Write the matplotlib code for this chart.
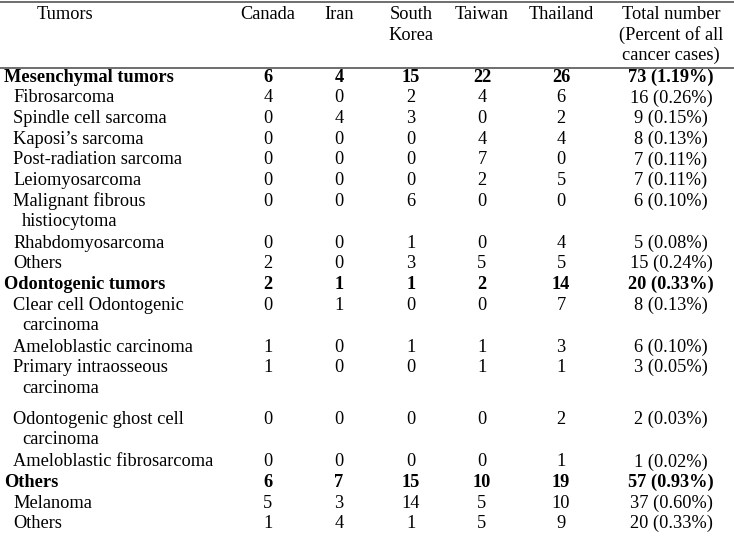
import matplotlib.pyplot as plt

plt.rcParams['font.family'] = ['Liberation Serif', 'DejaVu Serif']

# Table data
headers = ["Canada", "Iran", "South\nKorea", "Taiwan", "Thailand",
           "Total number\n(Percent of all\ncancer cases)"]
tumors = ["Mesenchymal tumors", "Fibrosarcoma", "Spindle cell sarcoma", "Kaposi\u2019s sarcoma",
          "Post-radiation sarcoma", "Leiomyosarcoma", "Malignant fibrous\nhistiocytoma",
          "Rhabdomyosarcoma", "Others", "Odontogenic tumors",
          "Clear cell Odontogenic\ncarcinoma", "Ameloblastic carcinoma",
          "Primary intraosseous\ncarcinoma", "Odontogenic ghost cell\ncarcinoma",
          "Ameloblastic fibrosarcoma", "Others", "Melanoma", "Others"]
is_group = [True, False, False, False, False, False, False, False, False, True,
            False, False, False, False, False, True, False, False]
canada = [6, 4, 0, 0, 0, 0, 0, 0, 2, 2, 0, 1, 1, 0, 0, 6, 5, 1]
iran = [4, 0, 4, 0, 0, 0, 0, 0, 0, 1, 1, 0, 0, 0, 0, 7, 3, 4]
south_korea = [15, 2, 3, 0, 0, 0, 6, 1, 3, 1, 0, 1, 0, 0, 0, 15, 14, 1]
taiwan = [22, 4, 0, 4, 7, 2, 0, 0, 5, 2, 0, 1, 1, 0, 0, 10, 5, 5]
thailand = [26, 6, 2, 4, 0, 5, 0, 4, 5, 14, 7, 3, 1, 2, 1, 19, 10, 9]
totals = ["73 (1.19%)", "16 (0.26%)", "9 (0.15%)", "8 (0.13%)", "7 (0.11%)", "7 (0.11%)",
          "6 (0.10%)", "5 (0.08%)", "15 (0.24%)", "20 (0.33%)", "8 (0.13%)", "6 (0.10%)",
          "3 (0.05%)", "2 (0.03%)", "1 (0.02%)", "57 (0.93%)", "37 (0.60%)", "20 (0.33%)"]

# Layout (pixel coordinates, text baselines)
row_base = [82, 102.5, 123, 143.5, 164.5, 185, 205.5, 247.5, 268, 289, 309.5, 351.5,
            372, 423.5, 466.5, 487, 507.5, 528]
header_base = [19, 39.5, 60]
col_x = [268, 339, 411, 482, 561, 671]
fs = 13.2
line_h = 20.6

fig = plt.figure(figsize=(7.34, 5.46), dpi=100)
ax = fig.add_axes([0, 0, 1, 1])
ax.set_xlim(0, 734)
ax.set_ylim(546, 0)
ax.axis('off')

ax.axhline(2, color='#555555', lw=1.2)
ax.axhline(68, color='#555555', lw=1.2)

ax.text(65, header_base[0], "Tumors", ha='center', va='baseline', fontsize=fs)
for x, h in zip(col_x, headers):
    for k, part in enumerate(h.split("\n")):
        ax.text(x, header_base[k], part, ha='center', va='baseline', fontsize=fs)

columns = [canada, iran, south_korea, taiwan, thailand, totals]
for i, name in enumerate(tumors):
    y = row_base[i]
    weight = 'bold' if is_group[i] else 'normal'
    lx = 4 if is_group[i] else 13
    for k, part in enumerate(name.split("\n")):
        ax.text(lx + 9 * k, y + line_h * k, part, ha='left', va='baseline',
                fontsize=fs, weight=weight)
    for x, col in zip(col_x, columns):
        ax.text(x, y, str(col[i]), ha='center', va='baseline', fontsize=fs,
                weight=weight)

fig.savefig("out.png", dpi=100)
